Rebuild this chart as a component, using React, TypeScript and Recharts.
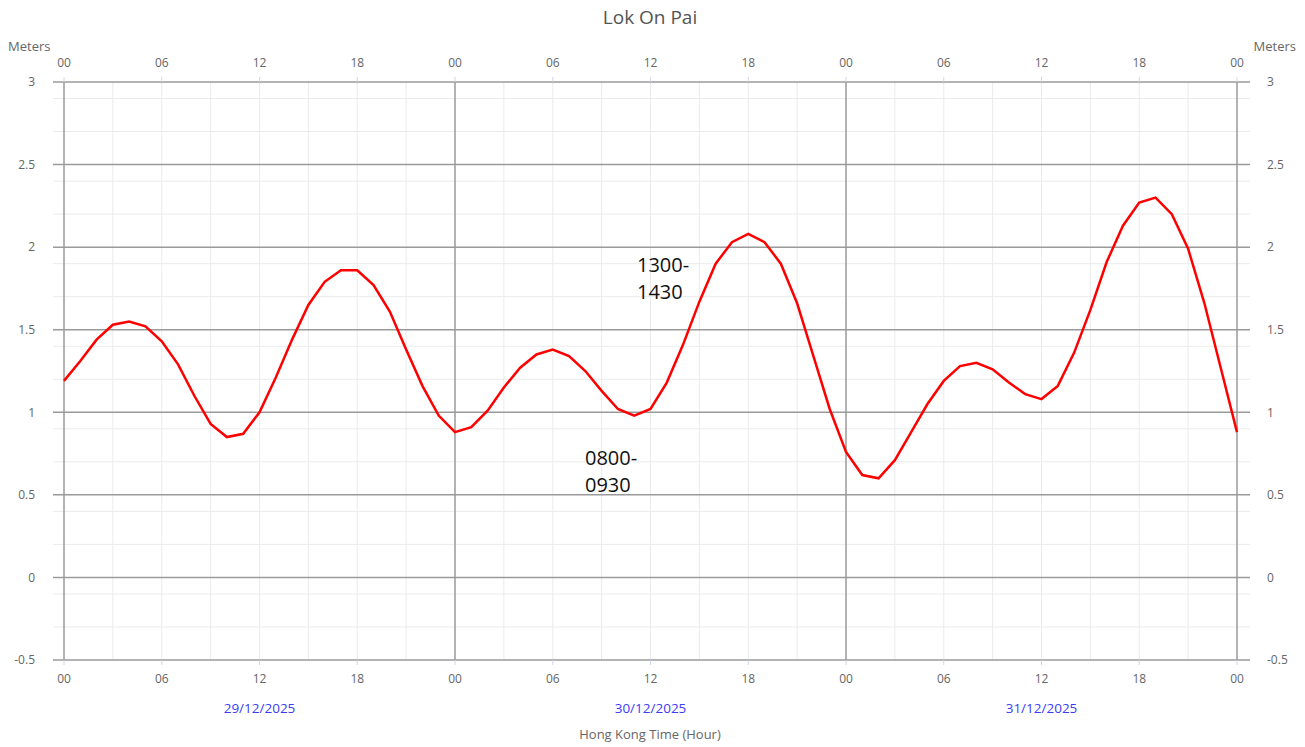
import {
  ComposedChart,
  Line,
  XAxis,
  YAxis,
  CartesianGrid,
} from 'recharts'

// hourly tide predictions, 29/12/2025 00:00 -> 01/01/2026 00:00
const hours = [
  0, 1, 2, 3, 4, 5, 6, 7, 8, 9, 10, 11, 12, 13, 14, 15, 16, 17, 18, 19, 20, 21, 22, 23,
  24, 25, 26, 27, 28, 29, 30, 31, 32, 33, 34, 35, 36, 37, 38, 39, 40, 41, 42, 43, 44, 45, 46, 47,
  48, 49, 50, 51, 52, 53, 54, 55, 56, 57, 58, 59, 60, 61, 62, 63, 64, 65, 66, 67, 68, 69, 70, 71,
  72,
]

const tideLevels = [
  1.19, 1.31, 1.44, 1.53, 1.55, 1.52, 1.43, 1.29, 1.1, 0.93, 0.85, 0.87,
  1.0, 1.21, 1.44, 1.65, 1.79, 1.86, 1.86, 1.77, 1.61, 1.38, 1.16, 0.98,
  0.88, 0.91, 1.01, 1.15, 1.27, 1.35, 1.38, 1.34, 1.25, 1.13, 1.02, 0.98,
  1.02, 1.18, 1.41, 1.67, 1.9, 2.03, 2.08, 2.03, 1.9, 1.66, 1.34, 1.02,
  0.76, 0.62, 0.6, 0.71, 0.88, 1.05, 1.19, 1.28, 1.3, 1.26, 1.18, 1.11,
  1.08, 1.16, 1.36, 1.62, 1.91, 2.13, 2.27, 2.3, 2.2, 1.99, 1.66, 1.27,
  0.88,
]

const hourTicks = [0, 6, 12, 18, 24, 30, 36, 42, 48, 54, 60, 66, 72]
const dayTicks = [12, 36, 60]
const dayLabels = ['29/12/2025', '30/12/2025', '31/12/2025']
const dayBoundaries = [0, 24, 48, 72]
const minorHours = [3, 6, 9, 12, 15, 18, 21, 27, 30, 33, 36, 39, 42, 45, 51, 54, 57, 60, 63, 66, 69]

const levelTicks = [-0.5, 0, 0.5, 1, 1.5, 2, 2.5, 3]
const minorLevels = [
  -0.4, -0.3, -0.2, -0.1, 0.1, 0.2, 0.3, 0.4, 0.6, 0.7, 0.8, 0.9, 1.1, 1.2, 1.3, 1.4,
  1.6, 1.7, 1.8, 1.9, 2.1, 2.2, 2.3, 2.4, 2.6, 2.7, 2.8, 2.9,
]

const annotations = [
  { lines: ['1300-', '1430'], x: 637, y: 272 },
  { lines: ['0800-', '0930'], x: 585, y: 465 },
]

const FONT = '"Open Sans", sans-serif'
const tickStyle = { fill: '#666', fontSize: 12, fontFamily: FONT }

export default function App() {
  const data = hours.map((h, i) => ({ hour: h, level: tideLevels[i] }))
  const pad = { left: 11, right: 13 }

  return (
    <div style={{ position: 'absolute', left: 0, top: 0, width: 1305, height: 747, background: '#fff' }}>
      <ComposedChart
        width={1305}
        height={747}
        data={data}
        margin={{ top: 52, right: 0, bottom: 27, left: 0 }}
      >
        {/* light minor grid */}
        <CartesianGrid
          stroke="#ebebeb"
          strokeWidth={1}
          horizontalValues={minorLevels}
          verticalValues={minorHours}
          xAxisId="bottom"
          yAxisId="left"
        />
        {/* darker major grid */}
        <CartesianGrid
          stroke="#9a9a9a"
          strokeWidth={1.5}
          horizontalValues={levelTicks}
          verticalValues={dayBoundaries}
          xAxisId="bottom"
          yAxisId="left"
        />
        <XAxis
          xAxisId="bottom"
          dataKey="hour"
          type="number"
          domain={[0, 72]}
          ticks={hourTicks}
          tickFormatter={(h: number) => String(h % 24).padStart(2, '0')}
          padding={pad}
          height={30}
          axisLine={false}
          tickLine={{ stroke: '#ccd6eb' }}
          tickSize={5}
          tickMargin={9}
          tick={tickStyle}
        />
        <XAxis
          xAxisId="date"
          dataKey="hour"
          type="number"
          domain={[0, 72]}
          ticks={dayTicks}
          tickFormatter={(h: number) => dayLabels[dayTicks.indexOf(h)]}
          padding={pad}
          height={30}
          axisLine={false}
          tickLine={false}
          tickSize={0}
          tickMargin={13}
          tick={{ fill: '#3c3cf5', fontSize: 13.5, fontFamily: FONT }}
        />
        <XAxis
          xAxisId="top"
          orientation="top"
          dataKey="hour"
          type="number"
          domain={[0, 72]}
          ticks={hourTicks}
          tickFormatter={(h: number) => String(h % 24).padStart(2, '0')}
          padding={pad}
          height={30}
          axisLine={false}
          tickLine={{ stroke: '#ccd6eb' }}
          tickSize={5}
          tickMargin={10}
          tick={tickStyle}
        />
        <YAxis
          yAxisId="left"
          domain={[-0.5, 3]}
          ticks={levelTicks}
          width={53}
          axisLine={false}
          tickLine={false}
          tickSize={0}
          tickMargin={18}
          tick={tickStyle}
        />
        <YAxis
          yAxisId="right"
          orientation="right"
          domain={[-0.5, 3]}
          ticks={levelTicks}
          width={55}
          axisLine={false}
          tickLine={false}
          tickSize={0}
          tickMargin={17}
          tick={tickStyle}
        />
        {/* invisible copy so the right axis gets a scale */}
        <Line
          xAxisId="top"
          yAxisId="right"
          type="linear"
          dataKey="level"
          stroke="none"
          dot={false}
          activeDot={false}
          isAnimationActive={false}
        />
        <Line
          xAxisId="bottom"
          yAxisId="left"
          type="linear"
          dataKey="level"
          stroke="#ff0000"
          strokeWidth={2.5}
          dot={false}
          activeDot={false}
          isAnimationActive={false}
        />
      </ComposedChart>

      <svg
        width={1305}
        height={747}
        style={{ position: 'absolute', left: 0, top: 0, pointerEvents: 'none' }}
        fontFamily={FONT}
      >
        <text x={650} y={24} textAnchor="middle" fontSize={19} fill="#555">
          Lok On Pai
        </text>
        <text x={8} y={51} fontSize={13} fill="#666">
          Meters
        </text>
        <text x={1296} y={51} textAnchor="end" fontSize={13} fill="#666">
          Meters
        </text>
        <text x={650} y={739} textAnchor="middle" fontSize={13} fill="#666">
          Hong Kong Time (Hour)
        </text>
        {annotations.map((a, i) => (
          <text key={i} x={a.x} y={a.y} fontSize={20} fill="#111">
            <tspan x={a.x}>{a.lines[0]}</tspan>
            <tspan x={a.x} dy={27}>{a.lines[1]}</tspan>
          </text>
        ))}
      </svg>
    </div>
  )
}
